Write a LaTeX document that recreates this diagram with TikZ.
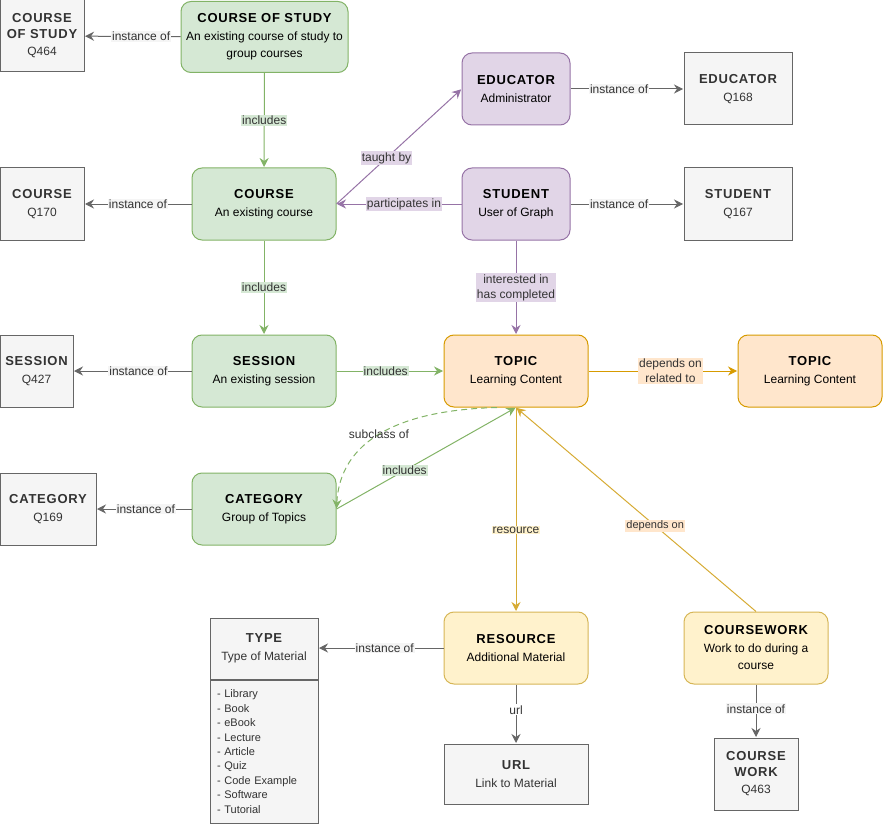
\documentclass[tikz,border=0pt]{standalone}
\usepackage{fontspec}
\setmainfont{Liberation Sans}
\newfontfamily\titlefont{Liberation Sans}[LetterSpace=6]
\usetikzlibrary{arrows.meta}
\definecolor{gfill}{HTML}{D5E8D4}\definecolor{gline}{HTML}{82B366}
\definecolor{pfill}{HTML}{E1D5E7}\definecolor{pline}{HTML}{9673A6}
\definecolor{ofill}{HTML}{FFE6CC}\definecolor{oline}{HTML}{D79B00}
\definecolor{yfill}{HTML}{FFF2CC}\definecolor{yline}{HTML}{D6B656}
\definecolor{grfill}{HTML}{F5F5F5}\definecolor{grline}{HTML}{666666}
\definecolor{grtext}{HTML}{333333}
\colorlet{yeline}{yline!60!oline}
\newcommand\ttl[1]{{\fontsize{13}{17}\selectfont\titlefont\bfseries #1}}
\begin{document}
\begin{tikzpicture}[x=1pt,y=-1pt,
  box/.style={draw, line width=1pt, align=center, inner sep=0pt, font=\fontsize{12}{17.5}\selectfont},
  gn/.style={box, fill=gfill, draw=gline, rounded corners=10pt},
  pn/.style={box, fill=pfill, draw=pline, rounded corners=10pt},
  on/.style={box, fill=ofill, draw=oline, rounded corners=10pt},
  yn/.style={box, fill=yfill, draw=yline, rounded corners=10pt},
  grn/.style={box, fill=grfill, draw=grline, text=grtext},
  tip/.style={-{Stealth[length=9pt,width=9pt,inset=3pt]}, shorten >=0.5pt},
  ge/.style={tip, line width=1pt, draw=gline},
  pe/.style={tip, line width=1pt, draw=pline},
  oe/.style={tip, line width=1pt, draw=oline},
  ye/.style={tip, line width=1pt, draw=yeline},
  gre/.style={tip, line width=1pt, draw=grline},
  lab/.style={font=\fontsize{12}{14}\selectfont, inner sep=1pt, text=grtext, align=center},
  glab/.style={lab, fill=gfill},
  plab/.style={lab, fill=pfill},
  grlab/.style={lab, fill=grfill},
]
\useasboundingbox (0,0) rectangle (884,824);

% ---- nodes
\node[gn, minimum width=167pt, minimum height=71pt] (cos) at (264.5,37) {\ttl{COURSE OF STUDY}\\An existing course of study to\\group courses};
\node[grn, minimum width=84pt, minimum height=72pt] (q464) at (42,36) {\ttl{COURSE}\\[-2pt]\ttl{OF STUDY}\\Q464};
\node[gn, minimum width=144pt, minimum height=72pt] (course) at (264,204) {\ttl{COURSE}\\An existing course};
\node[grn, minimum width=84pt, minimum height=72pt] (q170) at (42,204) {\ttl{COURSE}\\Q170};
\node[pn, minimum width=108pt, minimum height=72pt] (edu) at (516,89) {\ttl{EDUCATOR}\\Administrator};
\node[grn, minimum width=108pt, minimum height=72pt] (q168) at (738,89) {\ttl{EDUCATOR}\\Q168};
\node[pn, minimum width=108pt, minimum height=72pt] (stu) at (516,204) {\ttl{STUDENT}\\User of Graph};
\node[grn, minimum width=108pt, minimum height=72pt] (q167) at (738,204) {\ttl{STUDENT}\\Q167};
\node[gn, minimum width=144pt, minimum height=72pt] (ses) at (264,371) {\ttl{SESSION}\\An existing session};
\node[grn, minimum width=73pt, minimum height=72pt] (q427) at (36.5,371) {\ttl{SESSION}\\Q427};
\node[on, minimum width=144pt, minimum height=72pt] (topic) at (516,371) {\ttl{TOPIC}\\Learning Content};
\node[on, minimum width=144pt, minimum height=72pt] (topic2) at (810,371) {\ttl{TOPIC}\\Learning Content};
\node[gn, minimum width=144pt, minimum height=72pt] (cat) at (264,509) {\ttl{CATEGORY}\\Group of Topics};
\node[grn, minimum width=96pt, minimum height=72pt] (q169) at (48,509) {\ttl{CATEGORY}\\Q169};
\node[yn, minimum width=144pt, minimum height=72pt] (res) at (516,648) {\ttl{RESOURCE}\\Additional Material};
\node[yn, minimum width=144pt, minimum height=72pt] (cw) at (756,648) {\ttl{COURSEWORK}\\Work to do during a\\course};
\node[grn, minimum width=108pt, minimum height=61pt] (type) at (264,648.5) {\ttl{TYPE}\\Type of Material};
\node[grn, minimum width=108pt, minimum height=143pt, anchor=north, align=left, text width=94pt,
  font=\fontsize{11}{14.4}\selectfont] (typelist) at (type.south)
  {- Library\\- Book\\- eBook\\- Lecture\\- Article\\- Quiz\\- Code Example\\- Software\\- Tutorial};
\node[grn, minimum width=144pt, minimum height=60pt] (url) at (516,774) {\ttl{URL}\\Link to Material};
\node[grn, minimum width=84pt, minimum height=72pt] (q463) at (756,774) {\ttl{COURSE}\\[-2pt]\ttl{WORK}\\Q463};

% ---- instance of
\draw[gre] (cos) -- node[grlab, pos=0.41]{instance of} (q464);
\draw[gre] (course) -- node[grlab]{instance of} (q170);
\draw[gre] (ses) -- node[grlab, pos=0.45]{instance of} (q427);
\draw[gre] (cat) -- node[grlab, pos=0.48]{instance of} (q169);
\draw[gre] (edu) -- node[grlab, pos=0.43]{instance of} (q168);
\draw[gre] (stu) -- node[grlab, pos=0.43]{instance of} (q167);
\draw[gre] (res.west) -- node[grlab, pos=0.47]{instance of} (res.west -| type.east);
\draw[gre] (res) -- node[lab, fill=white, pos=0.43]{url} (url);
\draw[gre] (cw) -- node[grlab, pos=0.46]{instance of} (q463);

% ---- green
\draw[ge] (cos) -- node[glab]{includes} (course);
\draw[ge] (course) -- node[glab]{includes} (ses);
\draw[ge] (ses) -- node[glab, pos=0.46]{includes} (topic);
\draw[ge] (cat.east) -- node[glab, pos=0.38]{includes} (topic.south);
\coordinate (subst) at (497,407.5);
\draw[ge, dashed, dash pattern=on 6pt off 4pt] (subst) .. controls (400,410) and (340,440) .. (cat.east);
\node[lab] (sublab) at (379,434) {subclass of};

% ---- purple
\draw[pe] (stu) -- node[plab, pos=0.46]{participates in} (course);
\draw[pe] (course.east) -- node[plab, pos=0.4]{taught by} (edu.west);
\draw[pe] (stu) -- node[plab, font=\fontsize{12}{15}\selectfont]{interested in\\has completed} (topic);

% ---- orange / yellow
\draw[oe] (topic) -- node[lab, fill=ofill, pos=0.55, font=\fontsize{12}{15}\selectfont]{depends on\\related to} (topic2);
\draw[ye] (topic) -- node[lab, fill=yfill, pos=0.6]{resource} (res);
\draw[ye] (cw.north) -- node[lab, fill=ofill, pos=0.42, font=\fontsize{11}{13}\selectfont]{depends on} (topic.south);
\end{tikzpicture}
\end{document}
